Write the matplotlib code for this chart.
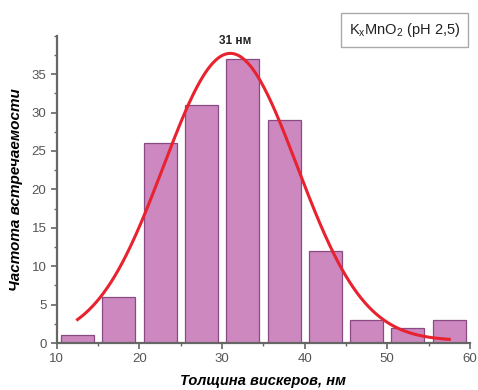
import numpy as np
from matplotlib import pyplot as plt
from matplotlib.ticker import MultipleLocator

# histogram data (bin centres, counts)
bin_centers = [12.5, 17.5, 22.5, 27.5, 32.5, 37.5, 42.5, 47.5, 52.5, 57.5]
counts = [1, 6, 26, 31, 37, 29, 12, 3, 2, 3]

# gauss fit parameters
fit_xc = 31.0
fit_sigma = 8.1
fit_amp = 37.4
fit_y0 = 0.3

plt.rcParams['font.family'] = ['Liberation Sans', 'DejaVu Sans']

fig = plt.figure(figsize=(4.78, 3.9), dpi=100)
ax = fig.add_axes([0.119, 0.1205, 0.864, 0.788])

ax.bar(bin_centers, counts, width=4.0, color='#cc88bf', edgecolor='#8a4a84', linewidth=0.9, zorder=2)

# fitted curve
x_fit = np.linspace(bin_centers[0], bin_centers[-1], 300)
y_fit = fit_y0 + fit_amp * np.exp(-(x_fit - fit_xc)**2 / (2 * fit_sigma**2))
ax.plot(x_fit, y_fit, color='#e8222e', linewidth=2.2, zorder=3)

ax.text(31.6, 39.3, '31 нм', ha='center', va='center', fontsize=8.5, fontweight='bold', color='#222222')

ax.set_xlim(10, 60)
ax.set_ylim(0, 40)
ax.xaxis.set_major_locator(MultipleLocator(10))
ax.xaxis.set_minor_locator(MultipleLocator(5))
ax.yaxis.set_major_locator(MultipleLocator(5))
ax.yaxis.set_minor_locator(MultipleLocator(2.5))
ax.set_yticks([0, 5, 10, 15, 20, 25, 30, 35])

for s in ['top', 'right']:
    ax.spines[s].set_visible(False)
for s in ['left', 'bottom']:
    ax.spines[s].set_color('#666666')
    ax.spines[s].set_linewidth(1.6)

ax.tick_params(which='major', direction='out', length=4, width=1.2, color='#666666',
               labelsize=9.5, labelcolor='#555555')
ax.tick_params(which='minor', direction='out', length=2.5, width=1.0, color='#666666')

ax.set_xlabel('Толщина вискеров, нм', fontsize=10.5, fontweight='bold', fontstyle='italic', labelpad=6)
ax.set_ylabel('Частота встречаемости', fontsize=11, fontweight='bold', fontstyle='italic', labelpad=6)

# legend-like label box
fig.text(0.846, 0.922, r'K$_\mathregular{x}$MnO$_\mathregular{2}$ (pH 2,5)', ha='center', va='center',
         fontsize=10.5, color='#222222',
         bbox=dict(boxstyle='square,pad=0.55', facecolor='white', edgecolor='#aaaaaa', linewidth=1.0))

plt.savefig('out.png', dpi=100)
